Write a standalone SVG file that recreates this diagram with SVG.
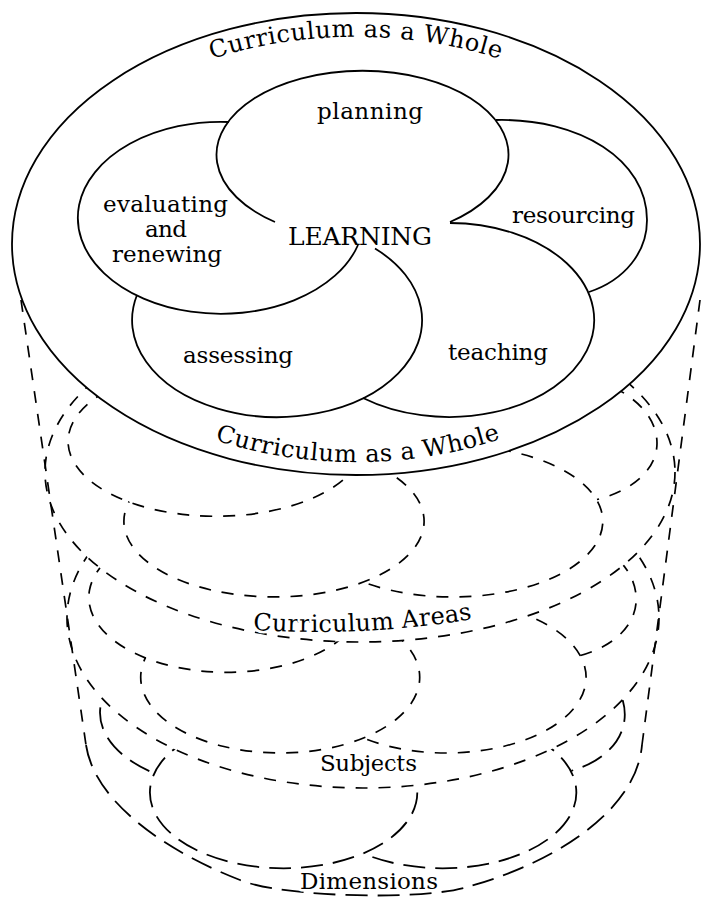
<svg xmlns="http://www.w3.org/2000/svg" width="701" height="898" viewBox="0 0 701 898">
<style>
.s{fill:none;stroke:#000;stroke-width:1.8}
.rf{fill:#fff;stroke:#000;stroke-width:1.8}
.d{fill:none;stroke:#000;stroke-width:1.7;stroke-dasharray:12 11}
.df{fill:#fff;stroke:#000;stroke-width:1.7;stroke-dasharray:12 11}
.dl{fill:none;stroke:#000;stroke-width:1.8;stroke-dasharray:22 10}
text{font-family:"DejaVu Serif","Liberation Serif",serif;font-size:23px;fill:#000}
.big{font-size:25px}
.cw{font-size:24px}
.h{stroke:#fff;stroke-width:5px;stroke-linejoin:round;paint-order:stroke}
</style>
<defs>
<path id="tpTop" d="M212,59 A320,207 0 0 1 507,61.4"/>
<path id="tpBot" d="M215,440 A322,218 0 0 0 505,437.4"/>
<path id="tpAreas" d="M253,630 Q365,637 473,619"/>
</defs>
<rect width="701" height="898" fill="#fff"/>

<g id="level-dimensions">
<path class="dl" d="M232,637.8 A132,74.9 0 0 0 153,772.7"/>
<ellipse class="dl" cx="283.6" cy="792.6" rx="133.7" ry="75.7"/>
<path class="dl" d="M443.1,716.9 A133.7,75.7 0 1 1 363,853.4"/>
<path class="dl" d="M486.5,636.6 C563,635 624.8,667.8 624.8,714.6 C624.8,739.6 604.5,761.4 571.3,770.8"/>
</g>

<g id="level-subjects">
<ellipse class="df" cx="363" cy="618" rx="296" ry="170"/>
<path class="d" d="M358.2,619 A137.6,74.9 0 1 1 226.4,522.5"/>
<path class="d" d="M374.5,621.5 A139.5,75.7 0 1 1 145.6,657.4"/>
<path class="d" d="M446.7,601.6 A139.5,75.7 0 1 1 363,737.9"/>
<path class="d" d="M491.9,521.3 C571.7,519.7 636.2,552.5 636.2,599.3 C636.2,624.3 615,646.1 580.4,655.5"/>
</g>

<g id="level-areas">
<ellipse class="df" cx="360" cy="472" rx="315" ry="170"/>
<path class="d" d="M357.9,462.8 A148,74.9 0 1 1 216.5,366.5"/>
<path class="d" d="M376.8,466.1 A150.1,75.7 0 1 1 129.1,501.5"/>
<path class="d" d="M453.1,445.6 A150.1,75.7 0 1 1 363,582"/>
<path class="d" d="M501.7,365.3 C587.6,363.7 657,396.5 657,443.3 C657,468.3 634.2,490.1 597,499.5"/>
</g>

<g id="cylinder">
<path class="d" d="M21,300 L86,745"/>
<path class="dl" d="M86,745 C95,804 170,853 240,880 C280,897 422,901 467,887 C545,866 636,815 642,745"/>
<path class="d" d="M642,745 L700,300"/>
</g>

<g id="curriculum-whole">
<ellipse class="rf" cx="356" cy="244" rx="344" ry="231"/>
</g>
<g id="resourcing"><path class="s" d="M496,120 C580,118 647,160 647,220 C647,252 625,280 589,292"/><text x="512" y="223" textLength="123">resourcing</text></g>
<g id="teaching"><path class="s" d="M450,223 A145,97 0 1 1 363,398"/><text x="448" y="360" textLength="100">teaching</text></g>
<g id="assessing"><path class="s" d="M375,248.5 A145,97 0 1 1 137,295"/><text x="183" y="363" textLength="110">assessing</text></g>
<g id="evaluating"><path class="s" d="M358,245 A143,96 0 1 1 229,122"/><text x="103" y="212" textLength="125">evaluating</text><text x="145" y="237" textLength="42">and</text><text x="112" y="262" textLength="110">renewing</text></g>
<g id="planning"><path class="s" d="M275,222 A146,84 0 1 1 450,222"/><text x="317" y="119" textLength="106">planning</text></g>
<g id="learning"><text class="big" x="288" y="245" textLength="144">LEARNING</text></g>

<g id="labels">
<text class="cw"><textPath href="#tpTop" textLength="292">Curriculum as a Whole</textPath></text>
<text class="cw"><textPath href="#tpBot" textLength="290">Curriculum as a Whole</textPath></text>
<text class="cw h"><textPath href="#tpAreas" textLength="220">Curriculum Areas</textPath></text>
<text class="h" x="320" y="771" textLength="97">Subjects</text>
<text class="h" x="300" y="889" textLength="138">Dimensions</text>
</g>
</svg>
